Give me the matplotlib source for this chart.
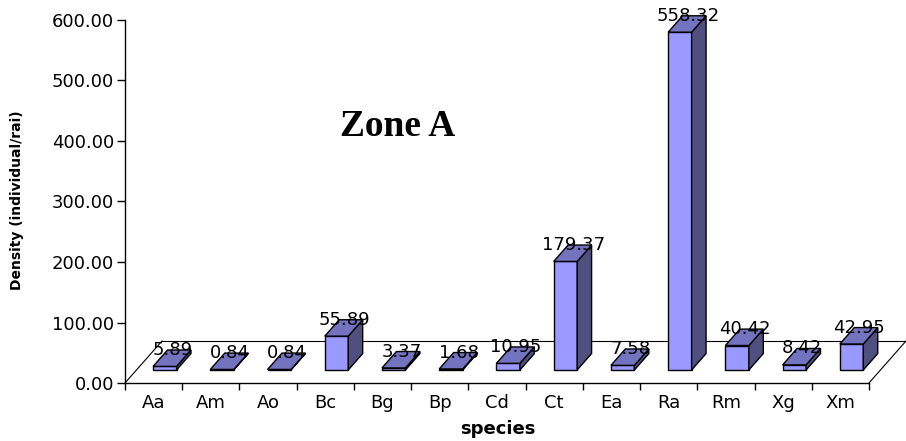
import matplotlib
matplotlib.use("Agg")
import matplotlib.pyplot as plt
from matplotlib.patches import Polygon

species = ["Aa", "Am", "Ao", "Bc", "Bg", "Bp", "Cd", "Ct", "Ea", "Ra", "Rm", "Xg", "Xm"]
density = [5.89, 0.84, 0.84, 55.89, 3.37, 1.68, 10.95, 179.37, 7.58, 558.32, 40.42, 8.42, 42.95]
yticks = [0, 100, 200, 300, 400, 500, 600]

W, H = 906, 441
fig = plt.figure(figsize=(W / 100, H / 100), dpi=100)
ax = fig.add_axes([125 / W, (H - 383) / H, 744 / W, 363 / H])

n = len(species)
ax.set_xlim(0, n)
ax.set_ylim(0, 600)

# depth geometry (in data units)
DX, DY = 0.647, 69.5          # full floor depth offset
f0, fd = 0.31, 0.39           # bar start depth fraction, bar depth fraction
gap, bw = 0.29, 0.41          # gap & bar width in category units

front_c = "#9999FF"
top_c = "#7373BF"
side_c = "#4F4F80"

# floor outline
floor_kw = dict(color="black", lw=0.8, clip_on=False, zorder=1)
ax.plot([0, DX], [0, DY], **floor_kw)
ax.plot([DX, n + DX], [DY, DY], **floor_kw)
ax.plot([n, n + DX], [0, DY], **floor_kw)

bx0 = f0 * DX
by0 = f0 * DY
ddx = fd * DX
ddy = fd * DY
for i, v in enumerate(density):
    x0 = i + bx0 + gap
    x1 = x0 + bw
    yb = by0
    yt = by0 + v
    front = Polygon([(x0, yb), (x1, yb), (x1, yt), (x0, yt)], closed=True,
                    facecolor=front_c, edgecolor="black", lw=1.0, clip_on=False, zorder=3)
    side = Polygon([(x1, yb), (x1 + ddx, yb + ddy), (x1 + ddx, yt + ddy), (x1, yt)], closed=True,
                   facecolor=side_c, edgecolor="black", lw=1.0, clip_on=False, zorder=3)
    top = Polygon([(x0, yt), (x1, yt), (x1 + ddx, yt + ddy), (x0 + ddx, yt + ddy)], closed=True,
                  facecolor=top_c, edgecolor="black", lw=1.0, clip_on=False, zorder=3)
    for p in (front, side, top):
        ax.add_patch(p)
    ax.text(x0 + bw / 2 + ddx / 2 + 0.01, yt + ddy, f"{v:.2f}", ha="center", va="center",
            fontsize=13, family="DejaVu Sans", zorder=5, clip_on=False)

# axes styling
for s in ("top", "right"):
    ax.spines[s].set_visible(False)
ax.spines["left"].set_linewidth(1.0)
ax.spines["bottom"].set_linewidth(1.0)
ax.set_facecolor("none")

ax.set_yticks(yticks)
ax.set_yticklabels([f"{t:.2f}" for t in yticks], fontsize=13, family="DejaVu Sans")
ax.tick_params(axis="y", length=6, width=1.0, pad=2, direction="out")

ax.set_xticks([i for i in range(n + 1)])
ax.set_xticklabels([])
ax.set_xticks([i + 0.5 for i in range(n)], minor=True)
ax.set_xticklabels(species, minor=True, fontsize=13, family="DejaVu Sans")
ax.tick_params(axis="x", which="major", length=5, width=1.0, direction="out")
ax.tick_params(axis="x", which="minor", length=0, pad=8)

fig.text(17.5 / W, 1 - 200.5 / H, "Density (individual/rai)", rotation=90, ha="center", va="center",
         fontsize=10, fontweight="bold", family="DejaVu Sans")
fig.text(498 / W, 1 - 434 / H, "species", ha="center", va="baseline",
         fontsize=13, fontweight="bold", family="DejaVu Sans")
fig.text(397.5 / W, 1 - 136 / H, "Zone A", ha="center", va="baseline",
         fontsize=27, fontweight="bold", family="Liberation Serif")

fig.savefig("out.png", dpi=100)
